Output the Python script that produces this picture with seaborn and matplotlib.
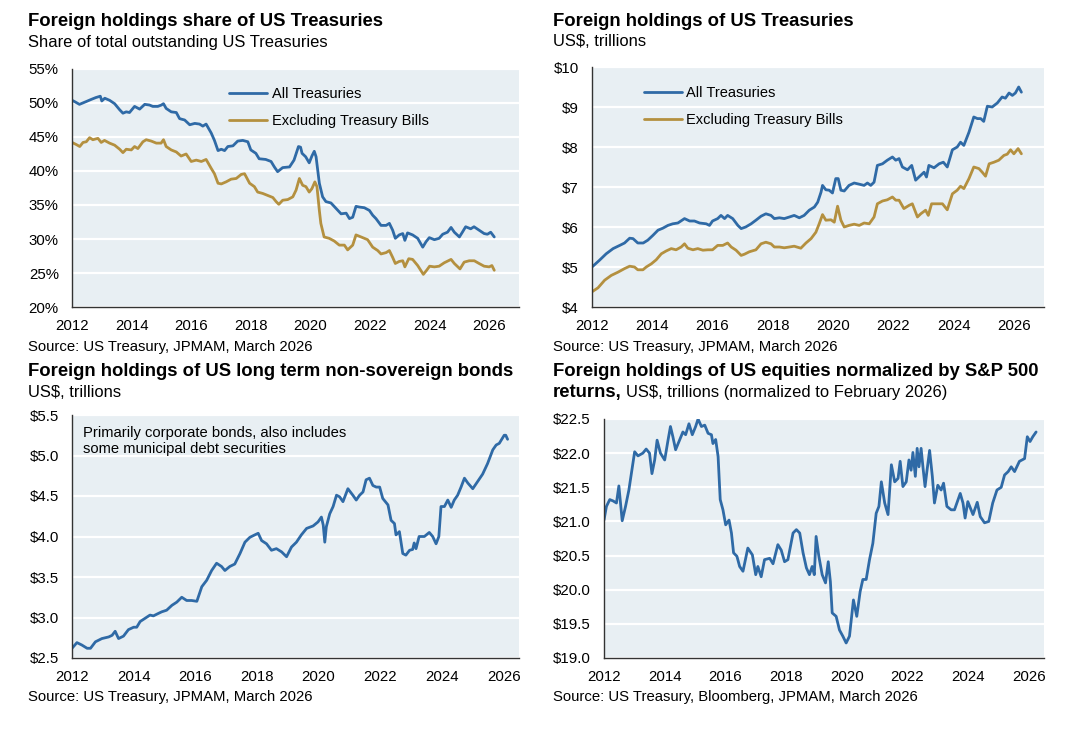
import numpy as np
import pandas as pd
import matplotlib
matplotlib.use("Agg")
import matplotlib.pyplot as plt
import seaborn as sns
from matplotlib.ticker import FuncFormatter, MultipleLocator

# ---------------- data (decimal years) ----------------
share_all_x = [2012.0, 2012.09, 2012.25, 2012.47, 2012.63, 2012.8, 2012.95, 2013.0, 2013.1, 2013.26,
               2013.43, 2013.6, 2013.71, 2013.82, 2013.93, 2014.1, 2014.27, 2014.44, 2014.6, 2014.71,
               2014.88, 2015.0, 2015.07, 2015.16, 2015.33, 2015.5, 2015.61, 2015.78, 2015.95, 2016.12,
               2016.28, 2016.39, 2016.5, 2016.67, 2016.78, 2016.9, 2017.01, 2017.12, 2017.23, 2017.4,
               2017.56, 2017.73, 2017.9, 2018.0, 2018.17, 2018.28, 2018.5, 2018.68, 2018.79, 2018.9,
               2019.07, 2019.3, 2019.45, 2019.6, 2019.67, 2019.72, 2019.84, 2019.96, 2020.05, 2020.13,
               2020.19, 2020.3, 2020.41, 2020.52, 2020.69, 2020.86, 2021.03, 2021.2, 2021.31, 2021.42,
               2021.53, 2021.64, 2021.81, 2021.98, 2022.09, 2022.2, 2022.37, 2022.54, 2022.65, 2022.76,
               2022.85, 2022.98, 2023.1, 2023.17, 2023.26, 2023.43, 2023.6, 2023.77, 2023.88, 2023.99,
               2024.16, 2024.32, 2024.44, 2024.6, 2024.72, 2024.83, 2025.0, 2025.1, 2025.21, 2025.38,
               2025.49, 2025.66, 2025.83, 2025.94, 2026.05, 2026.17]
share_all_y = [50.4, 50.2, 49.8, 50.2, 50.5, 50.8, 51.0, 50.3, 50.7, 50.4,
               49.9, 49.0, 48.5, 48.7, 48.6, 49.5, 49.1, 49.8, 49.7, 49.5,
               49.5, 49.7, 49.9, 49.2, 48.7, 48.6, 47.7, 47.5, 46.8, 47.0,
               46.9, 46.6, 46.9, 45.6, 44.5, 43.0, 43.2, 43.0, 43.6, 43.7,
               44.4, 44.5, 44.3, 43.1, 42.6, 41.8, 41.7, 41.4, 40.6, 39.9,
               40.5, 40.6, 41.6, 43.6, 43.5, 42.6, 42.1, 41.2, 42.2, 42.9,
               42.1, 38.2, 36.2, 35.5, 35.3, 34.5, 33.7, 33.8, 33.0, 33.2,
               34.8, 34.7, 34.6, 34.2, 33.5, 33.0, 32.0, 32.0, 32.3, 31.3,
               30.1, 30.6, 30.8, 29.8, 30.9, 30.6, 30.1, 28.8, 29.6, 30.2,
               29.9, 30.1, 30.7, 31.0, 31.7, 31.0, 30.3, 31.0, 31.8, 31.5,
               31.8, 31.3, 30.8, 30.7, 31.0, 30.3]

share_exb_x = [2012.0, 2012.14, 2012.26, 2012.37, 2012.48, 2012.59, 2012.7, 2012.87, 2012.98, 2013.09,
               2013.26, 2013.43, 2013.6, 2013.71, 2013.82, 2013.99, 2014.1, 2014.21, 2014.38, 2014.49,
               2014.66, 2014.83, 2014.99, 2015.07, 2015.16, 2015.33, 2015.5, 2015.66, 2015.83, 2016.0,
               2016.17, 2016.34, 2016.5, 2016.67, 2016.78, 2016.9, 2017.01, 2017.17, 2017.34, 2017.51,
               2017.68, 2017.79, 2017.96, 2018.12, 2018.23, 2018.4, 2018.57, 2018.74, 2018.85, 2018.94,
               2019.07, 2019.24, 2019.41, 2019.52, 2019.63, 2019.74, 2019.85, 2019.96, 2020.05, 2020.15,
               2020.22, 2020.3, 2020.35, 2020.46, 2020.63, 2020.8, 2020.97, 2021.14, 2021.25, 2021.42,
               2021.53, 2021.7, 2021.92, 2022.09, 2022.26, 2022.37, 2022.54, 2022.65, 2022.76, 2022.85,
               2022.98, 2023.1, 2023.17, 2023.3, 2023.43, 2023.6, 2023.79, 2023.9, 2024.0, 2024.16,
               2024.32, 2024.49, 2024.72, 2024.83, 2025.02, 2025.16, 2025.33, 2025.5, 2025.66, 2025.83,
               2026.0, 2026.09, 2026.17]
share_exb_y = [44.2, 43.9, 43.6, 44.2, 44.3, 44.9, 44.6, 44.8, 44.2, 44.5,
               44.1, 43.8, 43.2, 42.7, 43.2, 43.1, 43.6, 43.3, 44.3, 44.6,
               44.4, 44.1, 44.1, 44.6, 43.6, 43.1, 42.8, 42.2, 42.5, 41.4,
               41.6, 41.4, 41.7, 40.4, 39.6, 38.2, 38.1, 38.4, 38.8, 38.9,
               39.5, 39.6, 38.2, 37.7, 36.9, 36.7, 36.4, 36.1, 35.5, 35.1,
               35.7, 35.8, 36.2, 37.2, 38.9, 37.9, 37.7, 36.9, 37.4, 38.4,
               37.7, 34.2, 32.3, 30.3, 30.1, 29.7, 29.1, 29.1, 28.4, 29.1,
               30.6, 30.3, 29.9, 28.8, 28.3, 27.8, 28.0, 28.3, 27.3, 26.4,
               26.7, 26.8, 25.9, 27.1, 27.0, 26.1, 24.8, 25.4, 26.0, 25.9,
               26.0, 26.5, 27.0, 26.4, 25.6, 26.6, 26.8, 26.8, 26.4, 26.0,
               25.9, 26.1, 25.4]

hold_all_x = [2012.0, 2012.25, 2012.47, 2012.7, 2012.92, 2013.08, 2013.25, 2013.36, 2013.52, 2013.7,
              2013.85, 2014.02, 2014.19, 2014.35, 2014.52, 2014.68, 2014.85, 2015.07, 2015.24, 2015.4,
              2015.57, 2015.79, 2015.9, 2016.0, 2016.17, 2016.28, 2016.4, 2016.5, 2016.67, 2016.84,
              2016.95, 2017.1, 2017.28, 2017.44, 2017.61, 2017.77, 2017.94, 2018.05, 2018.22, 2018.38,
              2018.55, 2018.71, 2018.88, 2019.04, 2019.21, 2019.38, 2019.49, 2019.6, 2019.65, 2019.76,
              2019.87, 2019.98, 2020.09, 2020.17, 2020.26, 2020.37, 2020.53, 2020.7, 2020.87, 2021.03,
              2021.14, 2021.25, 2021.36, 2021.47, 2021.64, 2021.8, 2021.97, 2022.08, 2022.19, 2022.3,
              2022.47, 2022.61, 2022.74, 2022.85, 2023.02, 2023.1, 2023.18, 2023.35, 2023.52, 2023.66,
              2023.79, 2023.96, 2024.12, 2024.23, 2024.34, 2024.51, 2024.67, 2024.79, 2024.9, 2025.0,
              2025.12, 2025.28, 2025.45, 2025.61, 2025.72, 2025.84, 2025.95, 2026.05, 2026.16, 2026.25]
hold_all_y = [5.00, 5.17, 5.33, 5.46, 5.54, 5.60, 5.72, 5.71, 5.60, 5.60,
              5.67, 5.79, 5.92, 5.97, 6.04, 6.08, 6.10, 6.21, 6.15, 6.15,
              6.10, 6.08, 6.04, 6.15, 6.21, 6.29, 6.21, 6.29, 6.21, 6.04,
              5.96, 6.00, 6.08, 6.17, 6.27, 6.33, 6.29, 6.21, 6.23, 6.21,
              6.25, 6.29, 6.23, 6.29, 6.42, 6.50, 6.62, 6.87, 7.04, 6.93,
              6.92, 6.85, 7.21, 7.21, 6.92, 6.90, 7.04, 7.10, 7.07, 7.04,
              7.10, 7.04, 7.12, 7.54, 7.58, 7.67, 7.75, 7.67, 7.71, 7.50,
              7.43, 7.54, 7.17, 7.25, 7.37, 7.25, 7.54, 7.48, 7.58, 7.62,
              7.50, 7.93, 8.00, 8.12, 8.04, 8.37, 8.75, 8.71, 8.71, 8.64,
              9.02, 9.00, 9.10, 9.25, 9.22, 9.35, 9.29, 9.35, 9.50, 9.37]

hold_exb_x = [2012.0, 2012.2, 2012.42, 2012.64, 2012.86, 2013.08, 2013.25, 2013.41, 2013.52, 2013.69,
              2013.8, 2013.97, 2014.13, 2014.3, 2014.46, 2014.63, 2014.79, 2014.96, 2015.07, 2015.18,
              2015.35, 2015.51, 2015.68, 2015.84, 2016.0, 2016.17, 2016.34, 2016.5, 2016.62, 2016.78,
              2016.95, 2017.06, 2017.22, 2017.44, 2017.61, 2017.77, 2017.94, 2018.05, 2018.22, 2018.38,
              2018.55, 2018.71, 2018.93, 2019.1, 2019.27, 2019.43, 2019.54, 2019.65, 2019.76, 2019.93,
              2020.04, 2020.15, 2020.26, 2020.37, 2020.53, 2020.7, 2020.87, 2021.03, 2021.2, 2021.36,
              2021.47, 2021.64, 2021.8, 2021.97, 2022.08, 2022.19, 2022.35, 2022.52, 2022.63, 2022.8,
              2022.91, 2023.07, 2023.16, 2023.27, 2023.46, 2023.63, 2023.79, 2023.96, 2024.12, 2024.23,
              2024.34, 2024.51, 2024.67, 2024.84, 2024.95, 2025.06, 2025.18, 2025.34, 2025.5, 2025.67,
              2025.78, 2025.89, 2026.0, 2026.14, 2026.25]
hold_exb_y = [4.38, 4.48, 4.67, 4.79, 4.87, 4.96, 5.02, 5.00, 4.93, 4.93,
              5.00, 5.08, 5.18, 5.33, 5.40, 5.46, 5.43, 5.50, 5.58, 5.47,
              5.43, 5.46, 5.42, 5.43, 5.43, 5.54, 5.54, 5.60, 5.50, 5.42,
              5.29, 5.32, 5.38, 5.43, 5.58, 5.62, 5.58, 5.50, 5.50, 5.48,
              5.50, 5.52, 5.47, 5.60, 5.71, 5.87, 6.08, 6.31, 6.17, 6.18,
              6.12, 6.52, 6.17, 6.00, 6.04, 6.07, 6.04, 6.10, 6.08, 6.25,
              6.58, 6.65, 6.68, 6.75, 6.67, 6.67, 6.46, 6.54, 6.58, 6.25,
              6.33, 6.42, 6.29, 6.58, 6.58, 6.58, 6.43, 6.83, 6.92, 7.02,
              6.96, 7.21, 7.50, 7.46, 7.37, 7.27, 7.58, 7.62, 7.67, 7.79,
              7.82, 7.93, 7.83, 7.96, 7.83]

bonds_x = [2012.0, 2012.16, 2012.32, 2012.49, 2012.6, 2012.76, 2012.97, 2013.19, 2013.3, 2013.4,
           2013.51, 2013.67, 2013.83, 2014.0, 2014.1, 2014.21, 2014.37, 2014.53, 2014.64, 2014.8,
           2014.91, 2015.07, 2015.24, 2015.4, 2015.56, 2015.72, 2015.88, 2016.05, 2016.21, 2016.37,
           2016.53, 2016.69, 2016.85, 2016.96, 2017.12, 2017.28, 2017.45, 2017.61, 2017.77, 2017.93,
           2018.04, 2018.15, 2018.31, 2018.47, 2018.63, 2018.8, 2018.96, 2019.12, 2019.28, 2019.44,
           2019.61, 2019.82, 2019.98, 2020.09, 2020.15, 2020.2, 2020.25, 2020.36, 2020.47, 2020.58,
           2020.68, 2020.79, 2020.95, 2021.11, 2021.22, 2021.33, 2021.44, 2021.54, 2021.65, 2021.76,
           2021.87, 2021.98, 2022.08, 2022.25, 2022.35, 2022.46, 2022.51, 2022.62, 2022.73, 2022.83,
           2022.95, 2023.05, 2023.1, 2023.16, 2023.26, 2023.43, 2023.59, 2023.7, 2023.81, 2023.9,
           2023.97, 2024.08, 2024.19, 2024.3, 2024.4, 2024.51, 2024.62, 2024.73, 2024.84, 2025.0,
           2025.16, 2025.32, 2025.48, 2025.65, 2025.76, 2025.86, 2026.02, 2026.07, 2026.13]
bonds_y = [2.62, 2.69, 2.66, 2.62, 2.62, 2.70, 2.74, 2.76, 2.78, 2.83,
           2.74, 2.77, 2.85, 2.88, 2.88, 2.95, 2.99, 3.03, 3.02, 3.05,
           3.07, 3.09, 3.15, 3.19, 3.25, 3.21, 3.21, 3.20, 3.38, 3.46,
           3.58, 3.67, 3.63, 3.58, 3.63, 3.66, 3.79, 3.93, 3.99, 4.02,
           4.04, 3.95, 3.91, 3.83, 3.85, 3.81, 3.75, 3.87, 3.93, 4.02,
           4.10, 4.13, 4.18, 4.24, 4.14, 3.93, 4.12, 4.28, 4.37, 4.51,
           4.49, 4.43, 4.59, 4.51, 4.45, 4.51, 4.55, 4.70, 4.72, 4.63,
           4.61, 4.61, 4.47, 4.39, 4.20, 4.16, 4.02, 4.06, 3.79, 3.77,
           3.83, 3.84, 3.92, 3.85, 4.00, 4.00, 4.05, 4.00, 3.91, 4.00,
           4.37, 4.37, 4.45, 4.36, 4.45, 4.51, 4.61, 4.72, 4.66, 4.59,
           4.68, 4.77, 4.90, 5.07, 5.13, 5.15, 5.25, 5.25, 5.20]

eq_x = [2012.0, 2012.08, 2012.19, 2012.3, 2012.41, 2012.49, 2012.6, 2012.71, 2012.82, 2013.01,
        2013.12, 2013.28, 2013.39, 2013.5, 2013.58, 2013.67, 2013.75, 2013.86, 2014.0, 2014.11,
        2014.19, 2014.27, 2014.36, 2014.49, 2014.6, 2014.69, 2014.8, 2014.91, 2015.02, 2015.1,
        2015.21, 2015.32, 2015.43, 2015.54, 2015.59, 2015.68, 2015.76, 2015.83, 2015.92, 2016.01,
        2016.12, 2016.2, 2016.27, 2016.38, 2016.47, 2016.58, 2016.74, 2016.89, 2017.0, 2017.07,
        2017.18, 2017.29, 2017.46, 2017.57, 2017.73, 2017.84, 2017.95, 2018.06, 2018.23, 2018.34,
        2018.45, 2018.56, 2018.67, 2018.77, 2018.86, 2018.93, 2018.99, 2019.08, 2019.19, 2019.3,
        2019.39, 2019.46, 2019.52, 2019.65, 2019.76, 2019.87, 2019.98, 2020.09, 2020.22, 2020.33,
        2020.44, 2020.53, 2020.64, 2020.75, 2020.86, 2020.97, 2021.06, 2021.14, 2021.25, 2021.36,
        2021.47, 2021.58, 2021.69, 2021.76, 2021.85, 2021.96, 2022.05, 2022.12, 2022.18, 2022.26,
        2022.32, 2022.38, 2022.45, 2022.51, 2022.58, 2022.64, 2022.73, 2022.82, 2022.89, 2023.0,
        2023.11, 2023.19, 2023.3, 2023.44, 2023.55, 2023.74, 2023.83, 2023.9, 2023.99, 2024.16,
        2024.3, 2024.4, 2024.54, 2024.68, 2024.81, 2024.95, 2025.09, 2025.2, 2025.32, 2025.42,
        2025.53, 2025.69, 2025.86, 2025.95, 2026.04, 2026.13, 2026.24]
eq_y = [21.02, 21.22, 21.32, 21.30, 21.27, 21.52, 21.01, 21.22, 21.46, 22.02,
        21.96, 22.00, 22.06, 22.00, 21.70, 21.90, 22.19, 22.00, 21.90, 22.19,
        22.39, 22.24, 22.05, 22.19, 22.31, 22.27, 22.43, 22.27, 22.39, 22.50,
        22.39, 22.41, 22.29, 22.27, 22.14, 22.20, 21.95, 21.32, 21.17, 20.95,
        21.02, 20.83, 20.54, 20.49, 20.34, 20.27, 20.61, 20.51, 20.22, 20.34,
        20.19, 20.44, 20.46, 20.38, 20.66, 20.58, 20.41, 20.44, 20.83, 20.88,
        20.83, 20.54, 20.32, 20.22, 20.34, 20.22, 20.78, 20.49, 20.22, 20.10,
        20.41, 20.12, 19.66, 19.61, 19.41, 19.32, 19.22, 19.32, 19.85, 19.61,
        19.97, 20.15, 20.15, 20.44, 20.68, 21.12, 21.22, 21.58, 21.27, 21.10,
        21.83, 21.58, 21.63, 21.88, 21.51, 21.58, 21.90, 21.75, 22.01, 21.66,
        22.07, 21.80, 22.07, 21.80, 21.51, 21.73, 22.04, 21.66, 21.27, 21.53,
        21.46, 21.56, 21.22, 21.17, 21.17, 21.41, 21.27, 21.05, 21.29, 21.10,
        21.28, 21.07, 20.98, 21.00, 21.27, 21.46, 21.50, 21.68, 21.73, 21.80,
        21.73, 21.88, 21.92, 22.24, 22.17, 22.24, 22.31]

label_all = "All Treasuries"
label_exb = "Excluding Treasury Bills"
x_ticks = [2012, 2014, 2016, 2018, 2020, 2022, 2024, 2026]

# ---------------- style ----------------
BLUE = "#2F6AA6"
GOLD = "#B4903F"
BG = "#E8EFF3"
SPINE = "#333333"

sns.set_style("white")
plt.rcParams["font.family"] = ["Liberation Sans", "DejaVu Sans"]
plt.rcParams["axes.facecolor"] = BG
plt.rcParams["text.color"] = "black"

fig = plt.figure(figsize=(10.8, 7.36), dpi=100)
W, H = 1080.0, 736.0

def make_ax(left, top, right, bottom):
    return fig.add_axes([left / W, 1 - bottom / H, (right - left) / W, (bottom - top) / H])

ax1 = make_ax(72, 69, 519, 307)
ax2 = make_ax(592, 67, 1044, 307)
ax3 = make_ax(72, 415, 519, 658)
ax4 = make_ax(604, 419, 1044, 658)

def two_series(xa, ya, xb, yb):
    da = pd.DataFrame({"year": xa, "value": ya, "series": label_all})
    db = pd.DataFrame({"year": xb, "value": yb, "series": label_exb})
    return pd.concat([da, db], ignore_index=True)

pal = {label_all: BLUE, label_exb: GOLD}

sns.lineplot(data=two_series(share_all_x, share_all_y, share_exb_x, share_exb_y),
             x="year", y="value", hue="series", palette=pal, linewidth=2.0, ax=ax1)
sns.lineplot(data=two_series(hold_all_x, hold_all_y, hold_exb_x, hold_exb_y),
             x="year", y="value", hue="series", palette=pal, linewidth=2.0, ax=ax2)
sns.lineplot(data=pd.DataFrame({"year": bonds_x, "value": bonds_y}),
             x="year", y="value", color=BLUE, linewidth=2.0, ax=ax3)
sns.lineplot(data=pd.DataFrame({"year": eq_x, "value": eq_y}),
             x="year", y="value", color=BLUE, linewidth=2.0, ax=ax4)

def style(ax, ylim, ystep, fmt, xmax):
    ax.set_facecolor(BG)
    ax.set_xlim(2012, xmax)
    ax.set_ylim(*ylim)
    ax.set_xticks(x_ticks)
    ax.yaxis.set_major_locator(MultipleLocator(ystep))
    ax.yaxis.set_major_formatter(FuncFormatter(fmt))
    ax.grid(axis="y", color="white", linewidth=1.6)
    ax.grid(axis="x", visible=False)
    ax.set_axisbelow(True)
    for s in ["top", "right"]:
        ax.spines[s].set_visible(False)
    for s in ["left", "bottom"]:
        ax.spines[s].set_color(SPINE)
        ax.spines[s].set_linewidth(1.0)
    ax.tick_params(axis="both", direction="out", length=3, width=1.0, color=SPINE,
                   labelsize=10.8, labelcolor="black")
    ax.tick_params(axis="y", pad=6.5)
    ax.tick_params(axis="x", pad=5.5)
    ax.set_xlabel("")
    ax.set_ylabel("")

style(ax1, (20, 55), 5, lambda v, p: f"{v:.0f}%", 2027)
style(ax2, (4, 10), 1, lambda v, p: f"${v:.0f}", 2027)
style(ax3, (2.5, 5.5), 0.5, lambda v, p: f"${v:.1f}", 2026.5)
style(ax4, (19.0, 22.5), 0.5, lambda v, p: f"${v:.1f}", 2026.5)

for ax, ax_x, ax_y in [(ax1, 0.352, 0.925), (ax2, 0.115, 0.922)]:
    h, l = ax.get_legend_handles_labels()
    ax.legend(h, l, loc="upper left", bbox_to_anchor=(ax_x, ax_y), frameon=False,
              fontsize=10.5, handlelength=2.6, handletextpad=0.3, labelspacing=0.9,
              borderpad=0, borderaxespad=0)
for ax in (ax3, ax4):
    if ax.get_legend() is not None:
        ax.get_legend().remove()

ax3.text(0.025, 0.955, "Primarily corporate bonds, also includes\nsome municipal debt securities",
         transform=ax3.transAxes, ha="left", va="top", fontsize=10.6, linespacing=1.15)

# ---------------- titles & sources ----------------
TS, SS, SRC = 13.3, 11.9, 10.7
LX, RX = 28 / W, 553 / W

def yc(py):
    return 1 - py / H

fig.text(LX, yc(21), "Foreign holdings share of US Treasuries", fontsize=TS, weight="bold", va="center")
fig.text(LX, yc(42), "Share of total outstanding US Treasuries", fontsize=SS, va="center")
fig.text(RX, yc(21), "Foreign holdings of US Treasuries", fontsize=TS, weight="bold", va="center")
fig.text(RX, yc(42), "US$, trillions", fontsize=SS, va="center")

fig.text(LX, yc(347), "Source: US Treasury, JPMAM, March 2026", fontsize=SRC, va="center")
fig.text(RX, yc(347), "Source: US Treasury, JPMAM, March 2026", fontsize=SRC, va="center")

fig.text(LX, yc(372), "Foreign holdings of US long term non-sovereign bonds", fontsize=TS, weight="bold", va="center")
fig.text(LX, yc(393), "US$, trillions", fontsize=SS, va="center")
fig.text(RX, yc(372), "Foreign holdings of US equities normalized by S&P 500", fontsize=TS, weight="bold", va="center")
t_b = fig.text(RX, yc(393), "returns,", fontsize=TS, weight="bold", va="center")
fig.canvas.draw()
bb = t_b.get_window_extent(renderer=fig.canvas.get_renderer())
fig.text(bb.x1 / W + 4 / W, yc(393), "US$, trillions (normalized to February 2026)", fontsize=SS, va="center")

fig.text(LX, yc(697), "Source: US Treasury, JPMAM, March 2026", fontsize=SRC, va="center")
fig.text(RX, yc(697), "Source: US Treasury, Bloomberg, JPMAM, March 2026", fontsize=SRC, va="center")

fig.savefig("out.png", dpi=100, facecolor="white")
